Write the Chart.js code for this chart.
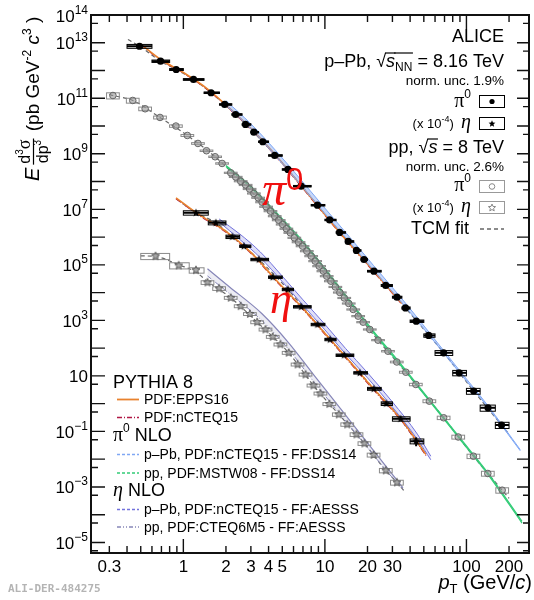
<!DOCTYPE html>
<html>
<head>
<meta charset="UTF-8">
<title>pi0 and eta spectra - p-Pb 8.16 TeV and pp 8 TeV</title>
<script src="https://cdn.jsdelivr.net/npm/chart.js"></script>
<style>
  html, body { margin: 0; padding: 0; background: #fff; }
  #wrap { width: 534px; height: 600px; }
</style>
</head>
<body>
<div id="wrap"><canvas id="spectra" width="534" height="600"></canvas></div>
<script>
// ---- values (eta already scaled by 1e-4) ----
const pPbPi0Pt = [0.49,0.69,0.89,1.18,1.57,1.96,2.34,2.75,3.15,3.64,4.42,5.48,6.79,8.86,10.8,12.7,14.6,16.7,18.9,22.2,26.9,32.3,37.1,44.2,54.1,69.0,88.9,112.5,142,177];
const pPbPi0Val = [7.5e12,2.17e12,1.09e12,4.77e11,1.58e11,5.99e10,2.61e10,1.14e10,6.02e9,2.72e9,8.71e8,2.73e8,6.83e7,1.41e7,4.14e6,1.47e6,6.95e5,3.3e5,1.56e5,5.92e4,1.81e4,6.85e3,2.8e3,936,286,68,12.9,2.86,0.71,0.17];
const pPbPi0Edges = [0.4,0.6,0.8,1.0,1.4,1.8,2.2,2.6,3.0,3.4,4.0,5.0,6.0,8.0,10,12,14,16,18,20,25,30,35,40,50,60,80,100,125,160,200];
const pPbPi0Sys = [0.16,0.1,0.08,0.07,0.06,0.06,0.06,0.06,0.06,0.06,0.06,0.06,0.06,0.06,0.06,0.06,0.06,0.06,0.07,0.07,0.08,0.08,0.09,0.1,0.14,0.2,0.22,0.24,0.25,0.25];

const ppPi0Pt = [0.318,0.439,0.537,0.684,0.886,1.067,1.268,1.457,1.677,1.878,2.161,2.343,2.541,2.754,2.938,3.149,3.376,3.601,3.842,4.125,4.421,4.718,5.03,5.342,5.699,6.08,6.516,6.953,7.45,8.0,8.536,9.106,9.76,10.3,11.02,11.85,12.75,13.7,14.74,15.85,17.18,18.63,20.76,23.74,27.9,32.2,37.3,43.9,54.7,69.0,87.5,112,141.6,178.9];
const ppPi0Val = [1.26e11,8.35e10,4.19e10,2.04e10,1.0e10,4.58e9,2.36e9,1.29e9,7.82e8,4.49e8,2.07e8,1.47e8,1.03e8,7.55e7,5.41e7,3.73e7,2.61e7,1.81e7,1.24e7,8.59e6,5.67e6,4.07e6,2.85e6,2.0e6,1.43e6,9.44e5,6.56e5,4.71e5,3.11e5,2.06e5,1.36e5,8.96e4,5.92e4,3.91e4,2.58e4,1.6e4,1.01e4,6.41e3,4.06e3,2.47e3,1.42e3,861,470,194,77.6,31.7,13.6,4.91,1.23,0.31,0.063,0.0128,3.05e-3,7.64e-4];
const ppPi0Sys = [0.25,0.2,0.15,0.12,0.1,0.08,0.07,0.06,0.06,0.06,0.05,0.05,0.05,0.05,0.05,0.05,0.05,0.05,0.05,0.05,0.05,0.05,0.05,0.05,0.05,0.05,0.05,0.05,0.05,0.05,0.05,0.05,0.05,0.05,0.05,0.05,0.05,0.05,0.05,0.05,0.05,0.05,0.05,0.05,0.06,0.07,0.08,0.1,0.12,0.14,0.16,0.18,0.2,0.22];

const pPbEtaPt = [1.228,1.696,2.218,2.679,3.415,4.281,5.482,6.808,8.86,10.88,13.7,17.66,22.14,27.15,34.25,44.1];
const pPbEtaVal = [7.52e6,3.28e6,1.03e6,4.71e5,1.56e5,3.6e4,1.3e4,3.09e3,711,205,55.7,12.9,3.44,1.01,0.285,0.0445];
const pPbEtaEdges = [1.0,1.5,2.0,2.5,3.0,4,5,6,8,10,12,16,20,25,30,40,50];
const pPbEtaSys = [0.18,0.16,0.14,0.1,0.1,0.1,0.1,0.1,0.1,0.1,0.1,0.1,0.12,0.15,0.18,0.2];
const pPbEtaStat = [0,0,0,0,0,0,0,0,0,0,0,0,0,0,0,0.35];

const ppEtaPt = [0.636,0.927,1.228,1.481,1.789,2.161,2.541,2.953,3.322,3.805,4.281,4.85,5.545,6.412,7.297,8.306,9.299,10.75,12.54,14.38,16.72,19.02,22.08,26.93,32.27];
const ppEtaVal = [2.06e5,9.51e4,6.43e4,2.32e4,1.41e4,6.52e3,3.25e3,1.7e3,861,470,256,136,68,25.8,11.2,4.52,2.33,0.97,0.407,0.178,0.0776,0.0368,0.0142,3.92e-3,1.45e-3];
const ppEtaSys = [0.25,0.25,0.22,0.15,0.15,0.12,0.12,0.12,0.12,0.12,0.12,0.12,0.12,0.12,0.12,0.12,0.12,0.12,0.14,0.14,0.15,0.15,0.16,0.18,0.2];
const ppEtaBinLo = [0.5,0.8,1.1];
const ppEtaBinHi = [0.8,1.1,1.4];

// TCM fits
const tcmPPbPi0Pt = [0.406,0.49,0.69,0.89,1.18,1.57,2.34,3.64,5.48,8.86,14.6,22.2,37.1,69,112.5,177,200];
const tcmPPbPi0Val = [1.3e13,7.5e12,2.17e12,1.09e12,4.77e11,1.58e11,2.61e10,2.72e9,2.73e8,1.41e7,6.95e5,5.92e4,2.8e3,68,2.86,0.17,0.08];
const tcmPpPi0Pt = [0.3,0.318,0.439,0.684,1.067,1.677,2.541,4.125,6.516,10.3,15.85,23.74,37.3,69,112,178.9,200];
const tcmPpPi0Val = [1.37e11,1.26e11,8.35e10,2.04e10,4.58e9,7.82e8,1.03e8,8.59e6,6.56e5,3.91e4,2.47e3,194,13.6,0.31,0.0128,7.64e-4,3.9e-4];
const tcmPPbEtaPt = [0.91,1.228,1.696,2.218,3.415,5.482,8.86,13.7,22.14,34.25,44.1,50];
const tcmPPbEtaVal = [2.2e7,7.52e6,3.28e6,1.03e6,1.56e5,1.3e4,711,55.7,3.44,0.285,0.0445,0.018];
const tcmPpEtaPt = [0.5,0.636,0.927,1.228,1.481,2.161,3.322,5.545,8.306,12.54,19.02,26.93,32.27,36];
const tcmPpEtaVal = [2.1e5,2.0e5,1.0e5,5.5e4,2.5e4,6.5e3,860,68,4.5,0.41,0.037,3.9e-3,1.45e-3,7.5e-4];

// PYTHIA 8
const pyPi0Pt = [0.5,0.7,1.0,1.5,2.2,3.2,5,8,13,22,35];
const pyPi0Epps = [8.9e12,2.4e12,8.5e11,2.07e11,3.7e10,5.9e9,4.7e8,2.6e7,1.3e6,6.2e4,4.07e3];
const pyPi0Ncteq = [8.6e12,2.3e12,8.1e11,1.95e11,3.5e10,5.6e9,4.4e8,2.45e7,1.22e6,5.8e4,3.8e3];
const pyEtaPt = [0.887,1.3,2.0,3.0,4.5,7,10,15,22,35,51.8];
const pyEtaEpps = [2.6e7,6.3e6,1.6e6,2.8e5,2.9e4,2.7e3,340,33,3.5,0.25,0.0148];
const pyEtaNcteq = [2.4e7,5.9e6,1.5e6,2.6e5,2.7e4,2.5e3,315,30,3.2,0.23,0.0135];

// NLO bands
const nloPPbPi0Pt = [2,3,4.5,7,10,15,22,35,55,90,140,240];
const nloPPbPi0Lo = [5.6e10,7.9e9,8.2e8,6.0e7,7.0e6,6.4e5,6.5e4,4.3e3,275,12.5,0.8,0.02];
const nloPPbPi0Hi = [8.2e10,1.2e10,1.3e9,9.5e7,1.1e7,9.8e5,9.6e4,6.0e3,350,15,0.92,0.022];
const nloPpPi0Pt = [2.0,3.0,4.5,7,10,15,22,35,55,90,140,247];
const nloPpPi0Lo = [3.5e8,6.0e7,7.0e6,6.2e5,6.5e4,4.5e3,360,21,1.2,0.052,3.1e-3,5.0e-5];
const nloPpPi0Hi = [3.8e8,6.8e7,8.0e6,7.0e5,7.4e4,5.1e3,410,24,1.35,0.058,3.5e-3,5.8e-5];
const nloPPbEtaPt = [1.79,2.5,3.5,5,7,10,14,20,30,45,56];
const nloPPbEtaLo = [3.5e6,8.3e5,1.8e5,2.5e4,3.5e3,455,62,8.5,0.75,0.052,0.0095];
const nloPPbEtaHi = [4.5e6,1.3e6,2.9e5,3.9e4,5.5e3,720,97,13,1.15,0.08,0.0128];
const nloPpEtaPt = [1.48,2.1,3.58,5.545,8.31,12.44,18.63,27.9,35.6];
const nloPpEtaHi = [7.2e4,1.66e4,1.77e3,156,11.2,0.84,0.0605,4.5e-3,9.3e-4];
const nloPpEtaLo = [4.0e4,9.5e3,1.0e3,90,6.3,0.5,0.04,3.3e-3,8.0e-4];

// axis ticks
const xTickLabels = [0.3,1,2,3,4,5,10,20,30,100,200];
const yTickExps = [14,13,11,9,7,5,3,1,-1,-3,-5];

// ---- style ----
const SANS = '"Liberation Sans", Arial, Helvetica, sans-serif';
const SERIF = '"Liberation Serif", "Times New Roman", serif';
const RED = '#f01010';
const C_EPPS = '#e8822e', C_NCTEQ = '#b01845', C_BLUE = '#7fa7f4', C_GREEN = '#33cc77', C_PURPLE = '#7272dc', C_SLATE = '#8686b8', C_TCM = '#666666';
const ppBoxHalfDec = 0.045;

function xy(pt, val) { return pt.map((p, i) => ({ x: p, y: val[i] })); }

function curve(pt, val, color, width, dash, extra) {
  return Object.assign({
    data: xy(pt, val), showLine: true, pointRadius: 0, borderColor: color,
    borderWidth: width, borderDash: dash || [], backgroundColor: color, fill: false,
    cubicInterpolationMode: 'monotone', order: 5
  }, extra || {});
}

function starPath(g, cx, cy, R, r) {
  g.beginPath();
  for (let i = 0; i < 10; i++) {
    const a = -Math.PI / 2 + i * Math.PI / 5, rad = i % 2 ? r : R;
    g.lineTo(cx + rad * Math.cos(a), cy + rad * Math.sin(a));
  }
  g.closePath();
}
function starImg(R, fill, stroke) {
  const s = Math.ceil(2 * R + 3), c = document.createElement('canvas');
  c.width = c.height = s;
  const g = c.getContext('2d');
  starPath(g, s / 2, s / 2, R, R * 0.45);
  g.fillStyle = fill; g.fill();
  if (stroke) { g.strokeStyle = stroke; g.lineWidth = 1; g.stroke(); }
  return c;
}

// error boxes / bars (pT widths from bins)
const pPbPi0Errs = { boxLo: pPbPi0Edges.slice(0, -1), boxHi: pPbPi0Edges.slice(1), barLo: pPbPi0Edges.slice(0, -1), barHi: pPbPi0Edges.slice(1), sys: pPbPi0Sys, boxColor: '#000', barColor: '#000', barWidth: 2 };
const pPbEtaErrs = { boxLo: pPbEtaEdges.slice(0, -1), boxHi: pPbEtaEdges.slice(1), barLo: pPbEtaEdges.slice(0, -1), barHi: pPbEtaEdges.slice(1), sys: pPbEtaSys, stat: pPbEtaStat, boxColor: '#000', barColor: '#000', barWidth: 2 };
const ppPi0Errs = { boxLo: ppPi0Pt.map(p => p * Math.pow(10, -ppBoxHalfDec)), boxHi: ppPi0Pt.map(p => p * Math.pow(10, ppBoxHalfDec)), sys: ppPi0Sys, boxColor: '#8a8a8a' };
const ppEtaErrs = {
  boxLo: ppEtaPt.map((p, i) => i < ppEtaBinLo.length ? ppEtaBinLo[i] : p * Math.pow(10, -ppBoxHalfDec)),
  boxHi: ppEtaPt.map((p, i) => i < ppEtaBinHi.length ? ppEtaBinHi[i] : p * Math.pow(10, ppBoxHalfDec)),
  sys: ppEtaSys, boxColor: '#8a8a8a'
};

const datasets = [
  // NLO p-Pb pi0
  curve(nloPPbPi0Pt, nloPPbPi0Lo, C_BLUE, 1),
  curve(nloPPbPi0Pt, nloPPbPi0Hi, C_BLUE, 1, null, { fill: '-1', backgroundColor: 'rgba(127,167,244,0.45)' }),
  // NLO pp pi0
  curve(nloPpPi0Pt, nloPpPi0Lo, C_GREEN, 1.2),
  curve(nloPpPi0Pt, nloPpPi0Hi, C_GREEN, 1.2, null, { fill: '-1', backgroundColor: 'rgba(51,204,119,0.5)' }),
  // NLO p-Pb eta
  curve(nloPPbEtaPt, nloPPbEtaLo, C_PURPLE, 1),
  curve(nloPPbEtaPt, nloPPbEtaHi, C_PURPLE, 1, null, { fill: '-1', backgroundColor: 'rgba(114,114,220,0.22)' }),
  // NLO pp eta
  curve(nloPpEtaPt, nloPpEtaLo, C_SLATE, 1, [5, 2, 1, 2]),
  curve(nloPpEtaPt, nloPpEtaHi, C_SLATE, 1.2, null, { fill: '-1', backgroundColor: 'rgba(134,134,184,0.15)' }),
  // PYTHIA
  curve(pyPi0Pt, pyPi0Epps, C_EPPS, 1.6),
  curve(pyPi0Pt, pyPi0Ncteq, C_NCTEQ, 1.2, [6, 2, 1, 2]),
  curve(pyEtaPt, pyEtaEpps, C_EPPS, 1.6),
  curve(pyEtaPt, pyEtaNcteq, C_NCTEQ, 1.2, [6, 2, 1, 2]),
  // TCM fits
  curve(tcmPPbPi0Pt, tcmPPbPi0Val, C_TCM, 1.2, [4, 3]),
  curve(tcmPpPi0Pt, tcmPpPi0Val, C_TCM, 1.2, [4, 3]),
  curve(tcmPPbEtaPt, tcmPPbEtaVal, C_TCM, 1.2, [4, 3]),
  curve(tcmPpEtaPt, tcmPpEtaVal, C_TCM, 1.2, [4, 3]),
  // data
  { data: xy(ppPi0Pt, ppPi0Val), showLine: false, pointStyle: 'circle', pointRadius: 3.3, pointBorderWidth: 1, pointBackgroundColor: 'rgba(150,150,150,0.6)', pointBorderColor: '#666', order: 2, errs: ppPi0Errs },
  { data: xy(ppEtaPt, ppEtaVal), showLine: false, pointStyle: starImg(4.2, '#a8a8a8', '#5a5a5a'), pointRadius: 4, order: 2, errs: ppEtaErrs },
  { data: xy(pPbPi0Pt, pPbPi0Val), showLine: false, pointStyle: 'circle', pointRadius: 3.6, pointBorderWidth: 0, pointBackgroundColor: '#000', pointBorderColor: '#000', order: 1, errs: pPbPi0Errs },
  { data: xy(pPbEtaPt, pPbEtaVal), showLine: false, pointStyle: starImg(4.2, '#000', null), pointRadius: 4, order: 1, errs: pPbEtaErrs }
];

// ---- rich text helper ----
function fnt(p) { return (p.it ? 'italic ' : '') + p.s + 'px ' + (p.f || SANS); }
function runWidth(ctx, parts) { let w = 0; parts.forEach(p => { ctx.font = fnt(p); w += ctx.measureText(p.t).width; }); return w; }
function run(ctx, x, y, parts, align) {
  const w = runWidth(ctx, parts);
  let cx = align === 'right' ? x - w : (align === 'center' ? x - w / 2 : x);
  ctx.textAlign = 'left'; ctx.textBaseline = 'alphabetic';
  parts.forEach(p => {
    ctx.font = fnt(p); ctx.fillStyle = p.c || '#000';
    const tw = ctx.measureText(p.t).width;
    ctx.fillText(p.t, cx, y + (p.dy || 0));
    if (p.ov) {
      ctx.strokeStyle = p.c || '#000'; ctx.lineWidth = 1.2; ctx.setLineDash([]);
      ctx.beginPath(); ctx.moveTo(cx - 1, y - p.ov); ctx.lineTo(cx + tw + 0.5, y - p.ov); ctx.stroke();
    }
    cx += tw;
  });
  return w;
}

const errPlugin = {
  id: 'errs',
  beforeDatasetDraw(chart, args) {
    const ds = chart.data.datasets[args.index], e = ds.errs;
    if (!e) return;
    const { ctx, chartArea: a, scales: { x, y } } = chart;
    ctx.save();
    ctx.beginPath(); ctx.rect(a.left, a.top, a.width, a.height); ctx.clip();
    ds.data.forEach((d, i) => {
      const px = x.getPixelForValue(d.x), py = y.getPixelForValue(d.y);
      const bl = x.getPixelForValue(e.boxLo[i]), br = x.getPixelForValue(e.boxHi[i]);
      const bt = y.getPixelForValue(d.y * (1 + e.sys[i])), bb = y.getPixelForValue(d.y * (1 - e.sys[i]));
      ctx.strokeStyle = e.boxColor; ctx.lineWidth = 1;
      ctx.strokeRect(bl, bt, br - bl, bb - bt);
      if (e.barLo) {
        ctx.strokeStyle = e.barColor; ctx.lineWidth = e.barWidth;
        ctx.beginPath();
        ctx.moveTo(x.getPixelForValue(e.barLo[i]), py);
        ctx.lineTo(x.getPixelForValue(e.barHi[i]), py);
        if (e.stat && e.stat[i] > 0) {
          ctx.moveTo(px, y.getPixelForValue(d.y * (1 + e.stat[i])));
          ctx.lineTo(px, y.getPixelForValue(d.y * (1 - e.stat[i])));
        }
        ctx.stroke();
      }
    });
    ctx.restore();
  }
};

const decorPlugin = {
  id: 'decor',
  afterDraw(chart) {
    const { ctx, chartArea: a, scales: { x, y } } = chart;
    ctx.save();
    // ticks (inside the frame, ROOT style)
    ctx.strokeStyle = '#111'; ctx.lineWidth = 1.4; ctx.setLineDash([]);
    ctx.beginPath();
    for (let k = -1; k <= 2; k++) {
      for (let m = 1; m <= 9; m++) {
        const v = m * Math.pow(10, k);
        if (v < x.min || v > x.max) continue;
        const px = x.getPixelForValue(v), L = m === 1 ? 14 : 7;
        ctx.moveTo(px, a.bottom); ctx.lineTo(px, a.bottom - L);
        ctx.moveTo(px, a.top); ctx.lineTo(px, a.top + L);
      }
    }
    for (let k = -6; k <= 14; k++) {
      [[1, 14], [5, 7]].forEach(([m, L]) => {
        const v = m * Math.pow(10, k);
        if (v < y.min || v > y.max) return;
        const py = y.getPixelForValue(v);
        ctx.moveTo(a.left, py); ctx.lineTo(a.left + L, py);
        ctx.moveTo(a.right, py); ctx.lineTo(a.right - (L === 14 ? 12 : 6), py);
      });
    }
    ctx.stroke();
    ctx.lineWidth = 2; ctx.strokeStyle = '#111';
    ctx.strokeRect(a.left, a.top, a.width, a.height);

    // tick labels
    ctx.fillStyle = '#000';
    xTickLabels.forEach(v => run(ctx, x.getPixelForValue(v), 572, [{ t: String(v), s: 17 }], 'center'));
    yTickExps.forEach(k => {
      const py = y.getPixelForValue(Math.pow(10, k));
      const parts = k === 1 ? [{ t: '10', s: 17 }] : [{ t: '10', s: 17 }, { t: String(k).replace('-', '\u2212'), s: 12, dy: -8 }];
      run(ctx, 88, py + 6.5, parts, 'right');
    });

    // axis titles
    run(ctx, 532, 589, [{ t: 'p', it: true, s: 20 }, { t: 'T', s: 13, dy: 4 }, { t: ' (GeV/', s: 20 }, { t: 'c', it: true, s: 20 }, { t: ')', s: 20 }], 'right');
    ctx.save();
    ctx.translate(39, 181); ctx.rotate(-Math.PI / 2);
    let w = run(ctx, 0, 0, [{ t: 'E', it: true, s: 20 }], 'left') + 3;
    const num = [{ t: 'd', s: 16 }, { t: '3', s: 10, dy: -7 }, { t: '\u03c3', f: SERIF, s: 18 }];
    const den = [{ t: 'dp', s: 16 }, { t: '3', s: 10, dy: -7 }];
    const fw = Math.max(runWidth(ctx, num), runWidth(ctx, den)) + 2;
    run(ctx, w + fw / 2, -9, num, 'center');
    run(ctx, w + fw / 2, 9, den, 'center');
    ctx.strokeStyle = '#000'; ctx.lineWidth = 1.2;
    ctx.beginPath(); ctx.moveTo(w, -5.5); ctx.lineTo(w + fw, -5.5); ctx.stroke();
    run(ctx, w + fw + 2, 0, [{ t: ' (pb GeV', s: 19 }, { t: '-2', s: 12, dy: -8 }, { t: ' ', s: 19 }, { t: 'c', it: true, s: 19 }, { t: '3', s: 12, dy: -8 }, { t: ' )', s: 19 }], 'left');
    ctx.restore();

    // top-right legend
    const R = 504;
    run(ctx, R, 42, [{ t: 'ALICE', s: 18 }], 'right');
    run(ctx, R, 67, [{ t: 'p\u2013Pb, ', s: 18 }, { t: '\u221a', s: 18 }, { t: 's', it: true, s: 18, ov: 14 }, { t: 'NN', s: 12, dy: 4, ov: 14 }, { t: ' = 8.16 TeV', s: 18 }], 'right');
    run(ctx, R, 85, [{ t: 'norm. unc. 1.9%', s: 13.5 }], 'right');
    run(ctx, 471, 107, [{ t: '\u03c0', f: SERIF, s: 20 }, { t: '0', s: 12, dy: -9 }], 'right');
    run(ctx, 471, 128, [{ t: '(x 10', s: 13 }, { t: '-4', s: 9, dy: -6 }, { t: ')  ', s: 13 }, { t: '\u03b7', f: SERIF, it: true, s: 20 }], 'right');
    run(ctx, R, 153, [{ t: 'pp, ', s: 18 }, { t: '\u221a', s: 18 }, { t: 's', it: true, s: 18, ov: 14 }, { t: ' = 8 TeV', s: 18 }], 'right');
    run(ctx, R, 171, [{ t: 'norm. unc. 2.6%', s: 13.5 }], 'right');
    run(ctx, 471, 191, [{ t: '\u03c0', f: SERIF, s: 20 }, { t: '0', s: 12, dy: -9 }], 'right');
    run(ctx, 471, 212, [{ t: '(x 10', s: 13 }, { t: '-4', s: 9, dy: -6 }, { t: ')  ', s: 13 }, { t: '\u03b7', f: SERIF, it: true, s: 20 }], 'right');
    run(ctx, 469, 234, [{ t: 'TCM fit', s: 18 }], 'right');

    ctx.lineWidth = 1;
    ctx.strokeStyle = '#000'; ctx.strokeRect(479.5, 95.5, 25, 12); ctx.strokeRect(479.5, 117.5, 25, 12);
    ctx.strokeStyle = '#999'; ctx.strokeRect(479.5, 180.5, 25, 12); ctx.strokeRect(479.5, 201.5, 25, 12);
    ctx.fillStyle = '#000';
    ctx.beginPath(); ctx.arc(492, 101.5, 2.6, 0, 2 * Math.PI); ctx.fill();
    starPath(ctx, 492, 123.8, 3.6, 1.6); ctx.fill();
    ctx.strokeStyle = '#888';
    ctx.beginPath(); ctx.arc(492, 186.5, 2.8, 0, 2 * Math.PI); ctx.stroke();
    starPath(ctx, 492, 207.8, 3.8, 1.7); ctx.stroke();
    ctx.strokeStyle = C_TCM; ctx.lineWidth = 1.3; ctx.setLineDash([4, 3]);
    ctx.beginPath(); ctx.moveTo(480, 229); ctx.lineTo(504, 229); ctx.stroke();
    ctx.setLineDash([]);

    // bottom-left legend
    const L0 = 113, T0 = 144;
    run(ctx, L0, 388, [{ t: 'PYTHIA 8', s: 18 }], 'left');
    const rows = [
      [404, 'PDF:EPPS16', C_EPPS, [], 1.8],
      [422, 'PDF:nCTEQ15', C_NCTEQ, [5, 2, 1, 2], 1.4],
      [459, 'p\u2013Pb, PDF:nCTEQ15 - FF:DSS14', C_BLUE, [3, 2], 1.6],
      [477.5, 'pp, PDF:MSTW08 - FF:DSS14', C_GREEN, [3, 2], 1.6],
      [514, 'p\u2013Pb, PDF:nCTEQ15 - FF:AESSS', C_PURPLE, [3, 2], 1.4],
      [531.5, 'pp, PDF:CTEQ6M5 - FF:AESSS', C_SLATE, [4, 2, 1, 2, 1, 2], 1.3]
    ];
    rows.forEach(([yb, txt, col, dash, lw]) => {
      ctx.strokeStyle = col; ctx.lineWidth = lw; ctx.setLineDash(dash);
      ctx.beginPath(); ctx.moveTo(117, yb - 4.5); ctx.lineTo(139, yb - 4.5); ctx.stroke();
      ctx.setLineDash([]);
      run(ctx, T0, yb, [{ t: txt, s: 14 }], 'left');
    });
    run(ctx, L0, 441, [{ t: '\u03c0', f: SERIF, s: 20 }, { t: '0', s: 12, dy: -9 }, { t: ' NLO', s: 18 }], 'left');
    run(ctx, L0, 496, [{ t: '\u03b7', f: SERIF, it: true, s: 20 }, { t: ' NLO', s: 18 }], 'left');

    // big red labels
    run(ctx, 262, 205, [{ t: '\u03c0', f: SERIF, it: true, s: 48, c: RED }, { t: '0', s: 31, dy: -15, c: RED }], 'left');
    run(ctx, 270, 313, [{ t: '\u03b7', f: SERIF, it: true, s: 44, c: RED }], 'left');

    // figure id
    ctx.font = 'bold 11px "DejaVu Sans Mono", monospace'; ctx.fillStyle = '#b4b4b4';
    ctx.textAlign = 'left'; ctx.fillText('ALI-DER-484275', 8, 592);
    ctx.restore();
  }
};

new Chart(document.getElementById('spectra').getContext('2d'), {
  type: 'scatter',
  data: { datasets: datasets },
  options: {
    responsive: false,
    animation: false,
    layout: { padding: { left: 91, right: 2, top: 15, bottom: 47 } },
    plugins: { legend: { display: false }, tooltip: { enabled: false } },
    scales: {
      x: { type: 'logarithmic', min: 0.2226, max: 276.7, display: false },
      y: { type: 'logarithmic', min: 4.17e-6, max: 1e14, display: false }
    }
  },
  plugins: [errPlugin, decorPlugin]
});
</script>
</body>
</html>
